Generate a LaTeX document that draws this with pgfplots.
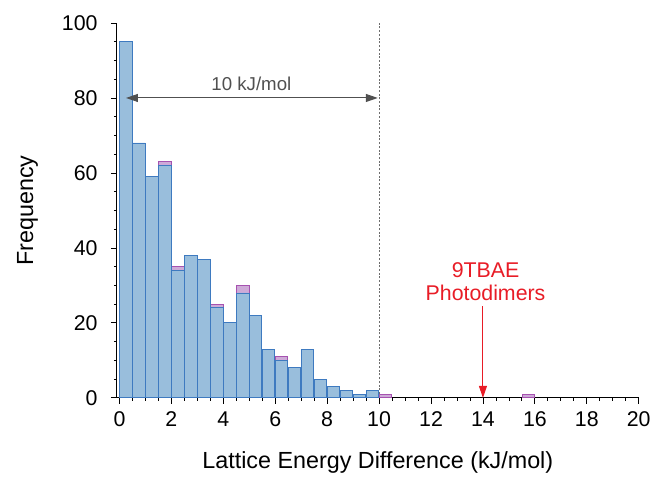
\documentclass[border=0pt]{standalone}
\usepackage{fontspec}
\setmainfont{Liberation Sans}
\usepackage{pgfplots}
\pgfplotsset{compat=1.18}
\usetikzlibrary{arrows.meta, calc}
\definecolor{barfill}{RGB}{153,190,220}
\definecolor{baredge}{RGB}{62,122,192}
\definecolor{pinkfill}{RGB}{206,170,216}
\definecolor{pinkedge}{RGB}{166,82,176}
\definecolor{arrowgray}{RGB}{80,80,80}
\definecolor{dotgray}{RGB}{110,110,110}
\definecolor{redc}{RGB}{232,28,38}
\begin{document}
\begin{tikzpicture}
\begin{axis}[
    scale only axis,
    width=391.5pt, height=281.25pt,
    xmin=-0.1, xmax=20, ymin=0, ymax=100,
    axis x line*=bottom, axis y line*=left,
    axis line style={line width=0.75pt},
    xtick={0,2,...,20}, ytick={0,20,...,100},
    minor x tick num=3, minor y tick num=3,
    tick align=outside,
    major tick length=4.5pt, minor tick length=2.2pt,
    tick style={black, line width=0.6pt},
    /pgf/number format/assume math mode=true,
    ticklabel style={font=\fontsize{16}{16}\selectfont},
    xticklabel style={anchor=base, yshift=-17pt},
    yticklabel style={xshift=-6.5pt},
    xlabel={Lattice Energy Difference (kJ/mol)},
    ylabel={Frequency},
    label style={font=\fontsize{17.5}{17.5}\selectfont},
    xlabel style={at={(rel axis cs:0.5,0)}, anchor=base, yshift=-53pt},
    ylabel style={at={(rel axis cs:0,0.5)}, anchor=base, yshift=62.9pt},
    clip=false,
]
\coordinate (O) at (rel axis cs:0,0);
% dotted 10 kJ/mol line
\draw[dotgray, line width=0.75pt, dash pattern=on 1.5pt off 1.3pt] (10,0) -- (10,100);
% totals where a second (pink) group is stacked on top
\addplot[ybar, bar width=0.47, bar shift=0pt, fill=pinkfill, draw=pinkedge, line width=0.6pt]
  coordinates {(1.75,63) (2.25,35) (3.75,25) (4.75,30) (6.25,11) (10.25,1) (15.75,1)};
\addplot[ybar, bar width=0.47, bar shift=0pt, fill=barfill, draw=baredge, line width=0.6pt]
  coordinates {(0.25,95) (0.75,68) (1.25,59) (1.75,62) (2.25,34) (2.75,38) (3.25,37)
    (3.75,24) (4.25,20) (4.75,28) (5.25,22) (5.75,13) (6.25,10) (6.75,8) (7.25,13)
    (7.75,5) (8.25,3) (8.75,2) (9.25,1) (9.75,2)};
% 10 kJ/mol span
\draw[{Triangle[length=9pt,width=6pt]}-{Triangle[length=9pt,width=6pt]}, arrowgray, line width=0.75pt]
  (0.25,80) -- (9.95,80);
\node[anchor=base, text=arrowgray, font=\fontsize{14}{14}\selectfont] at (5.08,81.9) {10 kJ/mol};
% photodimer marker
\draw[-{Triangle[length=9pt,width=6pt]}, redc, line width=0.75pt] (14,24.5) -- (14,0);
\node[anchor=base, text=redc, font=\fontsize{16}{16}\selectfont] at (14.1,32.2) {9TBAE};
\node[anchor=base, text=redc, font=\fontsize{16}{16}\selectfont] at (14.1,26.1) {Photodimers};
\end{axis}
\useasboundingbox ($(O)+(-87.7pt,-54pt)$) rectangle ($(O)+(403.6pt,298.5pt)$);
\end{tikzpicture}
\end{document}
